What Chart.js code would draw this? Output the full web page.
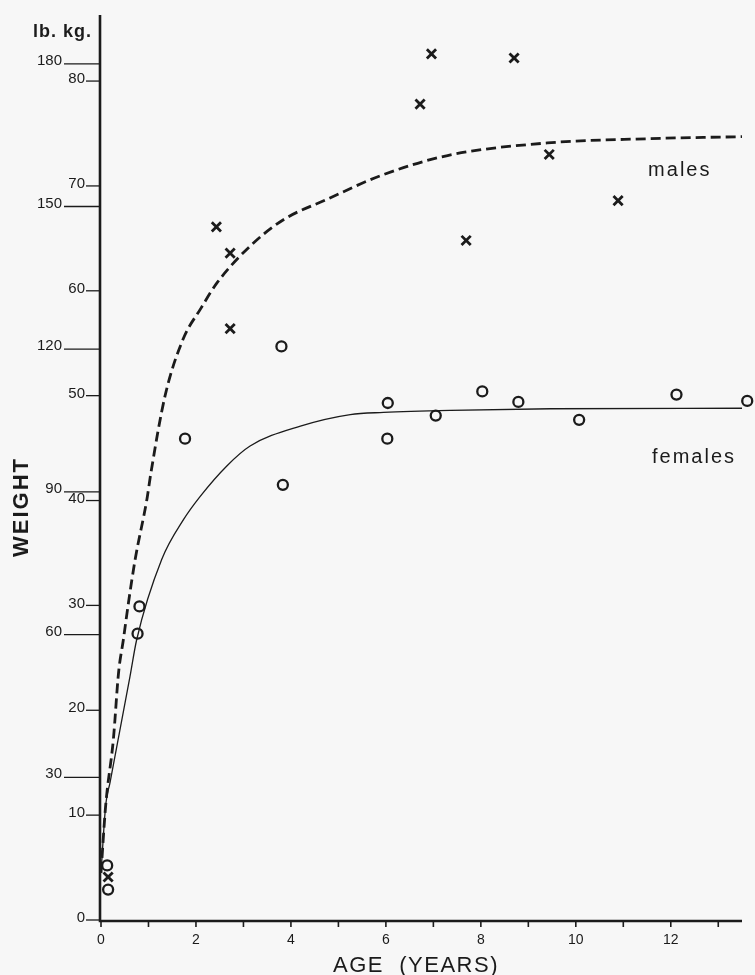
<!DOCTYPE html>
<html>
<head>
<meta charset="utf-8">
<script src="https://cdn.jsdelivr.net/npm/chart.js@4"></script>
<style>
  html, body { margin: 0; padding: 0; background: #f7f7f7; }
  #wrap { width: 755px; height: 975px; }
</style>
</head>
<body>
<div id="wrap"><canvas id="weightChart" width="755" height="975"></canvas></div>
<script>
// age in years, weight in kg
const maleAges = [6.96, 8.70, 6.72, 9.44, 10.89, 7.69, 2.43, 2.72, 2.72, 0.15];
const maleWeights = [82.6, 82.2, 77.8, 73.0, 68.6, 64.8, 66.1, 63.6, 56.4, 4.1];

const femaleAges = [3.80, 1.77, 6.04, 7.05, 6.03, 3.83, 8.03, 8.79, 10.07, 12.12, 13.61, 0.81, 0.77, 0.13, 0.15];
const femaleWeights = [54.7, 45.9, 49.3, 48.1, 45.9, 41.5, 50.4, 49.4, 47.7, 50.1, 49.5, 29.9, 27.3, 5.2, 2.9];

// growth curves drawn through the points
const maleCurveAges = [0, 0.1, 0.26, 0.37, 0.47, 0.58, 0.72, 0.97, 1.05, 1.35, 1.73, 2.1, 2.45, 3.15, 3.85, 4.75, 5.9, 7.3, 9.4, 11.5, 13.5];
const maleCurveWeights = [4.5, 11, 17.2, 23.6, 26.7, 30.3, 34.4, 40.2, 42.6, 50.0, 55.4, 58.3, 60.8, 64.3, 66.8, 68.7, 71.0, 72.9, 74.1, 74.5, 74.7];

const femaleCurveAges = [0, 0.1, 0.19, 0.61, 0.75, 1.28, 1.74, 2.09, 2.65, 3.14, 4.2, 5.25, 5.95, 7.36, 9.47, 13.5];
const femaleCurveWeights = [4.5, 11, 13.1, 23.2, 26.7, 34.4, 38.2, 40.4, 43.3, 45.2, 47.1, 48.2, 48.4, 48.6, 48.75, 48.8];

const kgTicks = [0, 10, 20, 30, 40, 50, 60, 70, 80];
const lbTicks = [30, 60, 90, 120, 150, 180];
const ageTicks = [0, 1, 2, 3, 4, 5, 6, 7, 8, 9, 10, 11, 12, 13];
const ageLabels = ['0', '', '2', '', '4', '', '6', '', '8', '', '10', '', '12', ''];

// where the curve names sit (age, kg)
const maleLabelAt = [12.19, 71.5];
const femaleLabelAt = [12.49, 44.1];

const LB_TO_KG = 0.45359;
const INK = '#1b1b1b';

function toPoints(xs, ys) {
  return xs.map((x, i) => ({ x: x, y: ys[i] }));
}

const axesPlugin = {
  id: 'oldAxes',
  afterDraw(chart) {
    const ctx = chart.ctx;
    const xs = chart.scales.x;
    const ys = chart.scales.y;
    const x0 = xs.getPixelForValue(0) - 1;
    const yBase = ys.getPixelForValue(0) + 1;

    ctx.save();
    ctx.strokeStyle = INK;
    ctx.fillStyle = INK;

    // axis lines
    ctx.lineWidth = 2.6;
    ctx.beginPath();
    ctx.moveTo(x0, chart.chartArea.top);
    ctx.lineTo(x0, yBase);
    ctx.lineTo(xs.getPixelForValue(13.5), yBase);
    ctx.stroke();

    // age ticks
    ctx.lineWidth = 1.6;
    ctx.font = '14px "Liberation Sans", Arial, sans-serif';
    ctx.textAlign = 'center';
    ctx.textBaseline = 'top';
    ageTicks.forEach((a, i) => {
      const px = xs.getPixelForValue(a);
      ctx.beginPath();
      ctx.moveTo(px, yBase);
      ctx.lineTo(px, yBase + 6);
      ctx.stroke();
      if (ageLabels[i]) ctx.fillText(ageLabels[i], px, yBase + 12);
    });

    // kg ticks
    ctx.font = '15px "Liberation Sans", Arial, sans-serif';
    ctx.textAlign = 'right';
    ctx.textBaseline = 'middle';
    ctx.lineWidth = 1.3;
    kgTicks.forEach(v => {
      const py = ys.getPixelForValue(v);
      ctx.beginPath();
      ctx.moveTo(x0 - 14, py);
      ctx.lineTo(x0, py);
      ctx.stroke();
      ctx.fillText(String(v), x0 - 15, py - 2);
    });

    // lb ticks, placed on the kg scale
    lbTicks.forEach(v => {
      const py = ys.getPixelForValue(v * LB_TO_KG);
      ctx.beginPath();
      ctx.moveTo(x0 - 36, py);
      ctx.lineTo(x0, py);
      ctx.stroke();
      ctx.fillText(String(v), x0 - 38, py - 3);
    });

    // unit header
    ctx.font = 'bold 18px "Liberation Sans", Arial, sans-serif';
    ctx.letterSpacing = '1px';
    ctx.textAlign = 'left';
    ctx.textBaseline = 'alphabetic';
    ctx.fillText('lb. kg.', 33, 37);

    // axis titles
    ctx.font = 'bold 22px "Liberation Sans", Arial, sans-serif';
    ctx.letterSpacing = '2px';
    ctx.save();
    ctx.translate(28, 507);
    ctx.rotate(-Math.PI / 2);
    ctx.textAlign = 'center';
    ctx.fillText('WEIGHT', 0, 0);
    ctx.restore();

    ctx.font = '22px "Liberation Sans", Arial, sans-serif';
    ctx.letterSpacing = '1.5px';
    ctx.textAlign = 'center';
    ctx.fillText('AGE  (YEARS)', 416, 972);

    // curve names
    ctx.font = '20px "Liberation Sans", Arial, sans-serif';
    ctx.letterSpacing = '2px';
    ctx.textBaseline = 'middle';
    ctx.fillText('males', xs.getPixelForValue(maleLabelAt[0]), ys.getPixelForValue(maleLabelAt[1]));
    ctx.fillText('females', xs.getPixelForValue(femaleLabelAt[0]), ys.getPixelForValue(femaleLabelAt[1]));
    ctx.restore();
  }
};

new Chart(document.getElementById('weightChart'), {
  type: 'scatter',
  data: {
    datasets: [
      {
        label: 'males curve',
        data: toPoints(maleCurveAges, maleCurveWeights),
        showLine: true,
        borderColor: INK,
        borderWidth: 2.8,
        borderDash: [10, 5],
        cubicInterpolationMode: 'monotone',
        pointRadius: 0,
        clip: false
      },
      {
        label: 'females curve',
        data: toPoints(femaleCurveAges, femaleCurveWeights),
        showLine: true,
        borderColor: INK,
        borderWidth: 1.3,
        cubicInterpolationMode: 'monotone',
        pointRadius: 0,
        clip: false
      },
      {
        label: 'males',
        data: toPoints(maleAges, maleWeights),
        pointStyle: 'crossRot',
        pointRadius: 6.5,
        borderWidth: 2.8,
        borderColor: INK,
        clip: false
      },
      {
        label: 'females',
        data: toPoints(femaleAges, femaleWeights),
        pointStyle: 'circle',
        pointRadius: 5,
        borderWidth: 2.3,
        borderColor: INK,
        backgroundColor: 'rgba(0,0,0,0)',
        clip: false
      }
    ]
  },
  options: {
    responsive: false,
    animation: false,
    layout: { padding: { left: 101, right: 13, top: 15, bottom: 55 } },
    plugins: { legend: { display: false }, tooltip: { enabled: false } },
    scales: {
      x: { type: 'linear', min: 0, max: 13.5, display: false },
      y: { type: 'linear', min: 0, max: 86.3, display: false }
    }
  },
  plugins: [axesPlugin]
});
</script>
</body>
</html>
